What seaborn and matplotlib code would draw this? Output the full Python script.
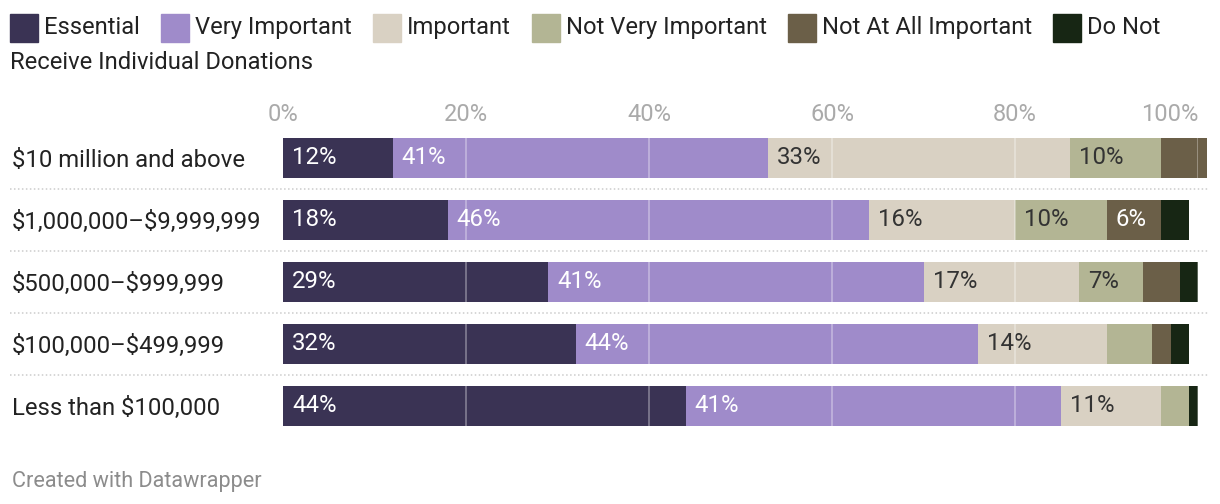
import numpy as np
import pandas as pd
import matplotlib
matplotlib.use('Agg')
import matplotlib.pyplot as plt
import matplotlib.transforms as mtransforms
from matplotlib.patches import Rectangle
import seaborn as sns

# data (percent of respondents)
groups = ['$10 million and above', '$1,000,000\u2013$9,999,999', '$500,000\u2013$999,999',
          '$100,000\u2013$499,999', 'Less than $100,000']
levels = ['Essential', 'Very Important', 'Important', 'Not Very Important',
          'Not At All Important', 'Do Not Receive Individual Donations']
essential = [12, 18, 29, 32, 44]
very_important = [41, 46, 41, 44, 41]
important = [33, 16, 17, 14, 11]
not_very = [10, 10, 7, 5, 3]
not_at_all = [5, 6, 4, 2, 0]
do_not = [0, 3, 2, 2, 1]

colors = ['#3a3354', '#9f8bca', '#d9d1c3', '#b3b594', '#6b5f48', '#172614']
label_colors = ['white', 'white', '#333333', '#333333', 'white', 'white']

sns.set_style('white')
plt.rcParams['font.family'] = ['Roboto', 'DejaVu Sans']
plt.rcParams['text.parse_math'] = False

W, H = 1220, 504
fig = plt.figure(figsize=(W / 100, H / 100), dpi=100)
ax = fig.add_axes([283 / W, (H - 437) / H, 915 / W, 310 / H])

df = pd.DataFrame({'group': groups})
vals = [essential, very_important, important, not_very, not_at_all, do_not]
for lev, v in zip(levels, vals):
    df[lev] = v
cum = df[levels].cumsum(axis=1)

# stacked bars: draw cumulative totals from the outermost segment inwards
for i in range(len(levels) - 1, -1, -1):
    sns.barplot(x=cum[levels[i]], y=df['group'], orient='h', color=colors[i],
                saturation=1, width=0.645, linewidth=0, ax=ax)
for p in ax.patches:
    p.set_clip_on(False)

# value labels
for i, lev in enumerate(levels):
    starts = cum[lev] - df[lev]
    for j, (s, v) in enumerate(zip(starts, df[lev])):
        if v >= 6:
            ax.annotate(f'{v}%', (s, j), xytext=(6.5, 0), textcoords='offset points',
                        ha='left', va='center', fontsize=17.3, color=label_colors[i])

# light gridlines over the bars
for g in [20, 40, 60, 80, 100]:
    ax.axvline(g, color='white', alpha=0.4, lw=1.1, zorder=5)

# dotted row separators across full width
trans = mtransforms.blended_transform_factory(fig.transFigure, ax.transData)
for y in np.arange(0.5, len(groups) - 1, 1):
    ax.plot([10 / W, 1208 / W], [y, y], transform=trans, clip_on=False,
            color='#cccccc', lw=1.1, ls=(0, (1, 1.6)), zorder=1)

ax.set_xlim(0, 100)
ax.set_ylim(len(groups) - 0.5, -0.5)
ax.xaxis.tick_top()
ax.set_xticks([0, 20, 40, 60, 80, 100])
ax.set_xticklabels(['0%', '20%', '40%', '60%', '80%', '100%'])
ax.tick_params(axis='x', length=0, pad=0.5, labelsize=17, labelcolor='#aaaaaa')
ax.get_xticklabels()[-1].set_horizontalalignment('right')
ax.tick_params(axis='y', length=0, pad=271 * 0.72, labelsize=17.2, labelcolor='#222222')
for lab in ax.get_yticklabels():
    lab.set_horizontalalignment('left')
ax.set_xlabel('')
ax.set_ylabel('')
sns.despine(ax=ax, left=True, bottom=True, top=True, right=True)

# legend, laid out like the original (wraps after "Do Not")
renderer = fig.canvas.get_renderer()
x = 10
legend_names = levels[:-1] + ['Do Not']
for name, c in zip(legend_names, colors):
    fig.patches.append(Rectangle((x / W, 1 - 42 / H), 28 / W, 28 / H,
                                 transform=fig.transFigure, color=c))
    t = fig.text((x + 34) / W, 1 - 34 / H, name, fontsize=17.1, color='#222222',
                 va='baseline', ha='left')
    bb = t.get_window_extent(renderer)
    x = bb.x1 + 21
fig.text(10 / W, 1 - 69 / H, 'Receive Individual Donations', fontsize=17.1,
         color='#222222', va='baseline', ha='left')

fig.text(12 / W, 1 - 487 / H, 'Created with Datawrapper', fontsize=15.6,
         color='#8c8c8c', va='baseline', ha='left')

plt.savefig('out.png', dpi=100)
